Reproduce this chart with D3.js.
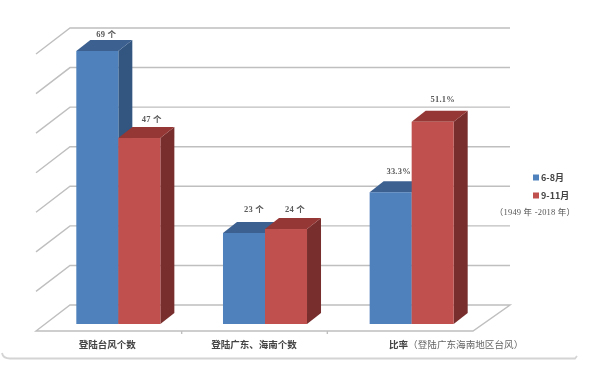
<!DOCTYPE html>
<html><head><meta charset="utf-8">
<script src="https://cdn.jsdelivr.net/npm/d3@7"></script>
<style>
html,body{margin:0;padding:0;background:#fff;width:600px;height:366px;overflow:hidden}
svg{display:block;filter:blur(0.55px)}
</style></head><body>
<svg id="c" width="600" height="366"></svg>
<script>
const categories = ["登陆台风个数", "登陆广东、海南个数", "比率"];
const categoryNotes = ["", "", "（登陆广东海南地区台风）"];
const seriesNames = ["6-8月", "9-11月"];
const values68 = [69, 23, 33.3];
const values911 = [47, 24, 51.1];
const labels68 = ["69 个", "23 个", "33.3%"];
const labels911 = ["47 个", "24 个", "51.1%"];
const gridTicks = [0, 10, 20, 30, 40, 50, 60, 70];
const legendNote = "（1949 年 -2018 年）";
const colors = {
  "6-8月": {front: "#4f81bd", top: "#3c6090", side: "#325680"},
  "9-11月": {front: "#c0504d", top: "#953735", side: "#772e2c"}
};

const svg = d3.select("#c");
const serif = "'Liberation Serif','Noto Sans CJK SC',serif";
const cjk = "'Noto Sans CJK SC','Liberation Sans',sans-serif";

// plane geometry
const floorY = 331, backDx = 34, backDy = 26;
const floorLeft = 36, floorRight = 473;
const barDepthX = 14, barDepthY = 11, barShiftX = 9, barShiftY = 7;

const x0 = d3.scaleBand().domain(categories)
  .range([floorLeft + barShiftX, floorRight + barShiftX + 3])
  .paddingInner(0.427).paddingOuter(0.2135);
const x1 = d3.scaleBand().domain(seriesNames).range([0, x0.bandwidth()]);
const y = d3.scaleLinear().domain([0, 70]).range([floorY, floorY - 277]);

// frame remnant
svg.append("path")
  .attr("d", "M2,353 Q3,358.5 10,358.5 L575,358.5 L577,356")
  .attr("fill", "none").attr("stroke", "#d4d4d4").attr("stroke-width", 1.8);

// walls and grid
const grid = svg.append("g").attr("fill", "none").attr("stroke", "#bfbfbf").attr("stroke-width", 1.4);
gridTicks.forEach(t => {
  const yy = y(t);
  grid.append("path").attr("d",
    t === 0
      ? `M${floorLeft},${yy} L${floorLeft + backDx},${yy - backDy} L${floorRight + backDx + 3},${yy - backDy} L${floorRight},${yy} Z`
      : `M${floorLeft},${yy} L${floorLeft + backDx},${yy - backDy} L${floorRight + backDx + 3},${yy - backDy}`);
});
// category ticks
const tickScale = d3.scaleBand().domain(categories).range([floorLeft, floorRight]);
categories.slice(1).forEach(c => {
  grid.append("line").attr("x1", tickScale(c)).attr("x2", tickScale(c))
    .attr("y1", floorY).attr("y2", floorY + 3);
});

// bars
const rows = [];
categories.forEach((c, i) => {
  rows.push({c, s: seriesNames[0], v: values68[i], label: labels68[i]});
  rows.push({c, s: seriesNames[1], v: values911[i], label: labels911[i]});
});
const bars = svg.append("g").selectAll("g").data(rows).join("g");
bars.each(function(d) {
  const g = d3.select(this);
  const x = x0(d.c) + x1(d.s), w = x1.bandwidth();
  const top = y(d.v) - barShiftY, bottom = y(0) - barShiftY;
  const col = colors[d.s];
  g.append("path").attr("fill", col.side)
    .attr("d", `M${x + w},${top} L${x + w + barDepthX},${top - barDepthY} L${x + w + barDepthX},${bottom - barDepthY} L${x + w},${bottom} Z`);
  g.append("path").attr("fill", col.top)
    .attr("d", `M${x},${top} L${x + barDepthX},${top - barDepthY} L${x + w + barDepthX},${top - barDepthY} L${x + w},${top} Z`);
  g.append("rect").attr("x", x).attr("y", top).attr("width", w).attr("height", bottom - top).attr("fill", col.front);
});

// data labels: hand-placed in the original, so each sits its own distance above its bar
const labelGap = {"69 个": 13.5, "47 个": 16, "23 个": 21, "24 个": 17, "33.3%": 18, "51.1%": 20};
const labelDx = {"69 个": 9, "47 个": 12.5, "23 个": 10, "24 个": 9, "33.3%": 8, "51.1%": 10};
bars.append("text")
  .attr("x", d => x0(d.c) + x1(d.s) + x1.bandwidth() / 2 + labelDx[d.label])
  .attr("y", d => y(d.v) - barShiftY - labelGap[d.label])
  .attr("text-anchor", "middle").attr("font-family", serif)
  .attr("font-size", 8.5).attr("font-weight", "bold").attr("letter-spacing", 0.2)
  .attr("fill", "#5a5a5a").text(d => d.label);

// category labels
const catLabels = svg.append("g");
const catDx = [-11, -11, 44.5];
categories.forEach((c, i) => {
  const t = catLabels.append("text").attr("x", x0(c) + x0.bandwidth() / 2 + catDx[i])
    .attr("y", 348).attr("text-anchor", "middle").attr("font-family", cjk)
    .attr("font-size", 9.5).attr("font-weight", "bold").attr("fill", "#444");
  t.append("tspan").text(c);
  if (categoryNotes[i]) t.append("tspan").attr("font-weight", "normal").attr("fill", "#666").attr("font-size", 9.6).text(categoryNotes[i]);
});

// legend
const legend = svg.append("g");
seriesNames.forEach((s, i) => {
  const yy = 177.5 + i * 18;
  legend.append("rect").attr("x", 533).attr("y", yy - 3).attr("width", 6).attr("height", 6).attr("fill", colors[s].front);
  legend.append("text").attr("x", 541).attr("y", yy + 3.5).attr("font-family", cjk)
    .attr("font-size", 9).attr("font-weight", "bold").attr("fill", "#444").text(s);
});
legend.append("text").attr("x", 535).attr("y", 215).attr("text-anchor", "middle")
  .attr("font-family", serif).attr("font-size", 8.5).attr("letter-spacing", 0.2).attr("fill", "#555").text(legendNote);
</script>
</body></html>
